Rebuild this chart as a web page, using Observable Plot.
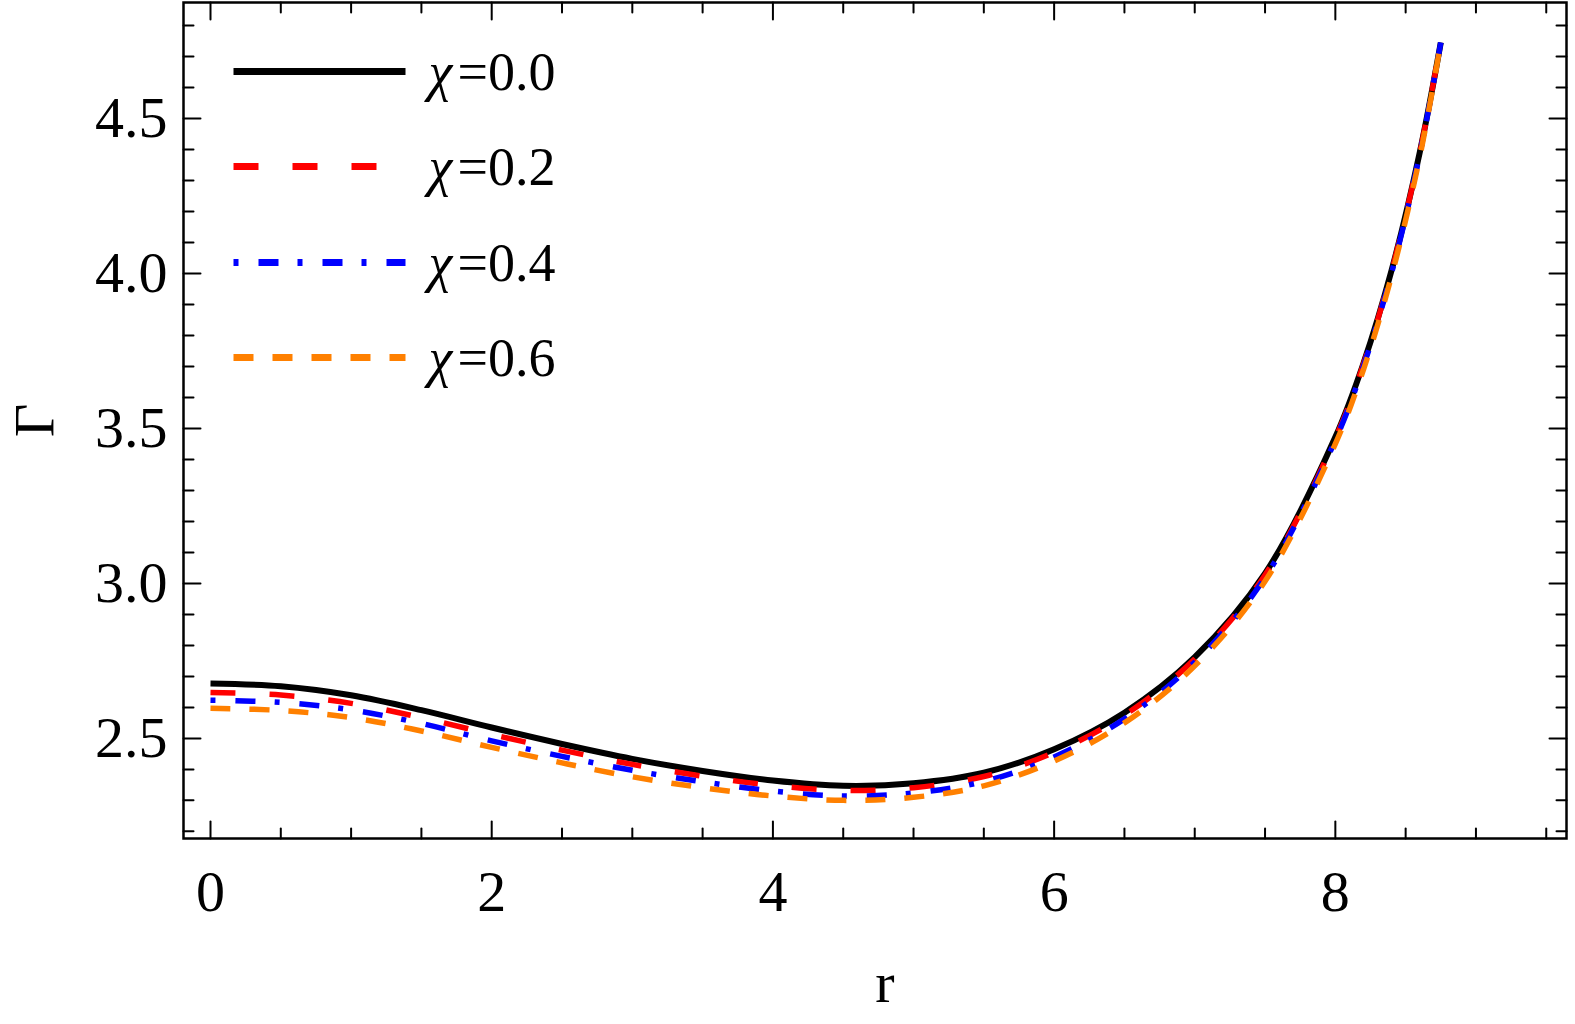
<!DOCTYPE html>
<html>
<head>
<meta charset="utf-8">
<script src="https://cdn.jsdelivr.net/npm/d3@7"></script>
<script src="https://cdn.jsdelivr.net/npm/@observablehq/plot@0.6"></script>
<style>
  html, body { margin: 0; padding: 0; background: #ffffff; }
  #chart { width: 1575px; height: 1024px; }
</style>
</head>
<body>
<div id="chart"></div>
<script>
// ---- data ----
const rValues    = [0, 0.5, 1, 1.5, 2, 2.5, 3, 3.5, 4, 4.5, 5, 5.5, 6, 6.5, 7, 7.5, 8, 8.2, 8.4, 8.6, 8.75];
const gammaChi00 = [2.677, 2.668, 2.639, 2.591, 2.535, 2.482, 2.434, 2.395, 2.364, 2.347, 2.355, 2.389, 2.465, 2.583, 2.762, 3.032, 3.472, 3.710, 4.010, 4.390, 4.745];
const gammaChi02 = [2.648, 2.640, 2.613, 2.567, 2.513, 2.462, 2.416, 2.378, 2.348, 2.332, 2.341, 2.377, 2.455, 2.575, 2.756, 3.027, 3.468, 3.707, 4.007, 4.388, 4.745];
const gammaChi04 = [2.623, 2.616, 2.592, 2.548, 2.492, 2.442, 2.397, 2.360, 2.330, 2.314, 2.324, 2.361, 2.440, 2.563, 2.746, 3.019, 3.462, 3.701, 4.002, 4.384, 4.745];
const gammaChi06 = [2.597, 2.590, 2.567, 2.524, 2.471, 2.421, 2.376, 2.341, 2.314, 2.300, 2.310, 2.347, 2.427, 2.550, 2.734, 3.007, 3.450, 3.690, 3.992, 4.375, 4.745];

const chiLabels = ["0.0", "0.2", "0.4", "0.6"];
const xTickLabels = [0, 2, 4, 6, 8];
const yTickLabels = [2.5, 3.0, 3.5, 4.0, 4.5];

// ---- styles ----
const seriesColors = ["#000000", "#ff0000", "#0000ff", "#ff8000"];
const seriesDash   = [null, "25,34", "5,20,20,19", "20,19"];
const seriesWidth  = [6, 5.5, 5.5, 5.5];

const allSeries = [gammaChi00, gammaChi02, gammaChi04, gammaChi06];
const table = allSeries.flatMap((g, i) => rValues.map((r, j) => ({ r, gamma: g[j], chi: chiLabels[i] })));

const xMinor = d3.range(0, 9.6, 0.5).filter(v => !xTickLabels.includes(v));
const yMinor = d3.range(22, 49, 1).map(v => v / 10).filter(v => !yTickLabels.some(t => Math.abs(t - v) < 1e-9));

const lineShape = { draw(context, l) { context.moveTo(0, 0); context.lineTo(0, -l); } };
const FONT = "'Liberation Serif', 'Times New Roman', serif";
const TICK_FS = 58, LEG_FS = 54;
const MAJ = 17, MIN = 10;

function ticks(data, channel, frameAnchor, rotate, length) {
  const o = { frameAnchor, rotate, length, anchor: "start", shape: lineShape, stroke: "black", strokeWidth: 2 };
  o[channel] = d => d;
  return Plot.vector(data, o);
}

const marks = [];
// tick marks on all four sides, pointing inwards
marks.push(ticks(xTickLabels, "x", "bottom", 0, MAJ));
marks.push(ticks(xMinor, "x", "bottom", 0, MIN));
marks.push(ticks(xTickLabels, "x", "top", 180, MAJ));
marks.push(ticks(xMinor, "x", "top", 180, MIN));
marks.push(ticks(yTickLabels, "y", "left", 90, MAJ));
marks.push(ticks(yMinor, "y", "left", 90, MIN));
marks.push(ticks(yTickLabels, "y", "right", -90, MAJ));
marks.push(ticks(yMinor, "y", "right", -90, MIN));

// curves
chiLabels.forEach((chi, i) => {
  marks.push(Plot.line(table.filter(d => d.chi === chi), {
    x: "r", y: "gamma", curve: "catmull-rom",
    stroke: seriesColors[i], strokeWidth: seriesWidth[i],
    strokeDasharray: seriesDash[i], strokeLinecap: "butt", strokeLinejoin: "round"
  }));
});

marks.push(Plot.frame({ stroke: "black", strokeWidth: 2.5 }));

// axes labels
marks.push(Plot.axisX({ ticks: xTickLabels, tickSize: 0, tickPadding: 31, fontSize: TICK_FS, fontFamily: FONT, fill: "black", label: null }));
marks.push(Plot.axisY({ ticks: yTickLabels, tickSize: 0, tickPadding: 16, tickFormat: d3.format(".1f"), fontSize: TICK_FS, fontFamily: FONT, fill: "black", label: null }));
marks.push(Plot.text(["r"], { text: d => d, frameAnchor: "bottom", dx: 10, dy: 145, lineAnchor: "middle", textAnchor: "middle", fontSize: TICK_FS, fontFamily: FONT, fill: "black" }));
marks.push(Plot.text(["Γ"], { text: d => d, frameAnchor: "left", dx: -148, rotate: -90, lineAnchor: "middle", textAnchor: "middle", fontSize: TICK_FS, fontFamily: FONT, fill: "black" }));

// legend inside the frame
const legendDy = [69, 164, 260, 355];
chiLabels.forEach((chi, i) => {
  marks.push(Plot.vector([chi], {
    frameAnchor: "top-left", dx: 50, dy: legendDy[i], rotate: 90, length: 172, anchor: "start",
    shape: lineShape, stroke: seriesColors[i], strokeWidth: 7,
    strokeDasharray: seriesDash[i], strokeLinecap: "butt"
  }));
  marks.push(Plot.text(["χ"], {
    text: d => d, frameAnchor: "top-left", dx: 245, dy: legendDy[i] + 1, textAnchor: "start", lineAnchor: "middle",
    fontStyle: "italic", fontSize: LEG_FS, fontFamily: FONT, fill: "black"
  }));
  marks.push(Plot.text(["=" + chi], {
    text: d => d, frameAnchor: "top-left", dx: 274, dy: legendDy[i] + 1, textAnchor: "start", lineAnchor: "middle",
    fontSize: LEG_FS, fontFamily: FONT, fill: "black"
  }));
});

const chart = Plot.plot({
  width: 1575,
  height: 1024,
  marginLeft: 183,
  marginRight: 9,
  marginTop: 2,
  marginBottom: 186,
  style: { fontFamily: FONT, background: "#ffffff", color: "black" },
  x: { domain: [-0.192, 9.644] },
  y: { domain: [2.177, 4.874] },
  marks
});
document.getElementById("chart").appendChild(chart);
</script>
</body>
</html>
